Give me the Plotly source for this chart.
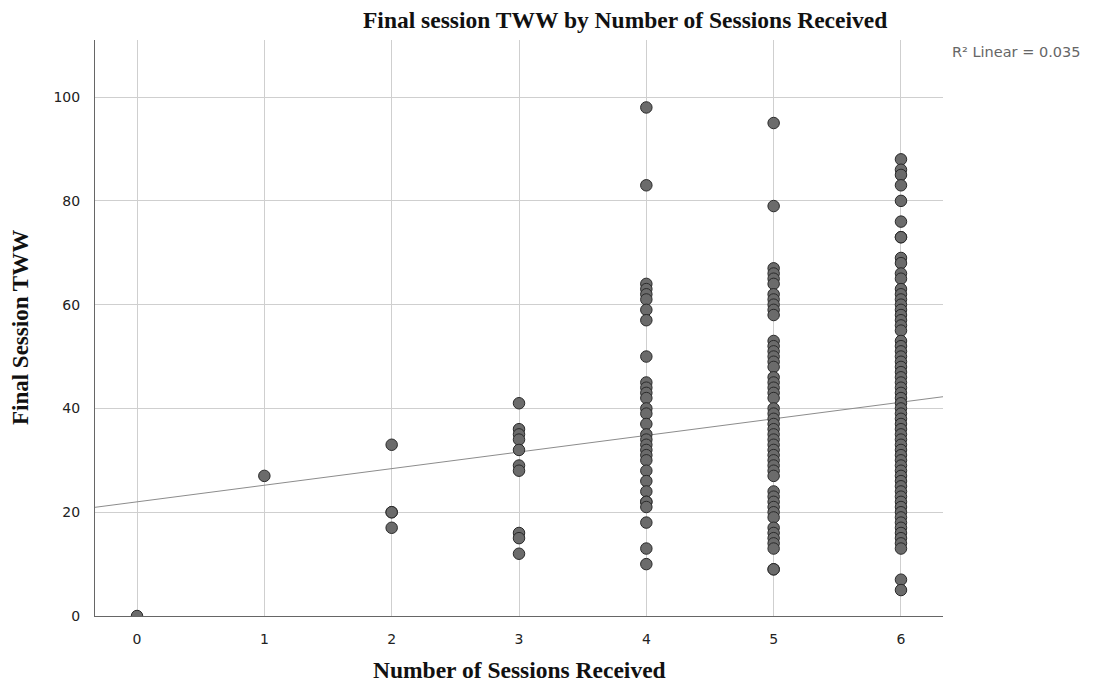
import plotly.graph_objects as go

# ---- data ----
tww_0 = [0]
tww_1 = [27]
tww_2 = [33, 20, 20, 17]
tww_3 = [41, 36, 35, 34, 32, 29, 28, 16, 15, 12]
tww_4 = [98, 83, 64, 63, 62, 61, 59, 57, 50, 45, 44, 43, 42, 40, 39, 37, 35, 34,
         33, 32, 31, 30, 28, 26, 24, 22, 22, 21, 18, 13, 10]
tww_5 = [95, 79, 67, 66, 65, 64, 62, 61, 60, 59, 58, 53, 52, 51, 50, 49, 48, 46,
         45, 44, 43, 42, 40, 39, 38, 37, 36, 35, 34, 33, 32, 31, 30, 29, 28, 27,
         24, 23, 22, 21, 20, 19, 17, 16, 15, 14, 13, 9, 9]
tww_6 = [88, 86, 85, 83, 80, 76, 73, 73, 69, 68, 66, 65, 63, 62, 61, 60, 59, 58,
         57, 56, 55, 53, 52, 51, 50, 49, 48, 47, 46, 45, 44, 43, 42, 41, 40, 39,
         38, 37, 36, 35, 34, 33, 32, 31, 30, 29, 28, 27, 26, 25, 24, 23, 22, 21,
         20, 19, 18, 17, 16, 15, 14, 13, 7, 5]

groups = {0: tww_0, 1: tww_1, 2: tww_2, 3: tww_3, 4: tww_4, 5: tww_5, 6: tww_6}

fit_intercept = 22.0
fit_slope = 3.2
r2_label = "R² Linear = 0.035"

x_ticks = [0, 1, 2, 3, 4, 5, 6]
y_ticks = [0, 20, 40, 60, 80, 100]
x_range = [-0.33, 6.33]
y_range = [0, 111]

title_text = "Final session TWW by Number of Sessions Received"
x_title = "Number of Sessions Received"
y_title = "Final Session TWW"

# ---- build ----
xs, ys = [], []
for k, vals in groups.items():
    xs += [k] * len(vals)
    ys += vals

fig = go.Figure()
fig.add_trace(go.Scatter(
    x=x_range,
    y=[fit_intercept + fit_slope * v for v in x_range],
    mode="lines",
    line=dict(color="#8c8c8c", width=1),
    hoverinfo="skip",
    showlegend=False,
))
fig.add_trace(go.Scatter(
    x=xs, y=ys, mode="markers",
    marker=dict(size=11.5, color="#6b6b6b", line=dict(color="#2a2a2a", width=1)),
    showlegend=False,
))

serif = "Liberation Serif, Times New Roman, serif"
sans = "DejaVu Sans, Verdana, sans-serif"

# page body has an 8px margin; figure sized so plot area lands at x 95-943, y 40-616
L, R, T, B = 87, 151, 32, 67
PW, PH = 848, 576

fig.update_layout(
    width=L + PW + R, height=T + PH + B,
    margin=dict(l=L, r=R, t=T, b=B),
    paper_bgcolor="white", plot_bgcolor="white",
    showlegend=False,
    xaxis=dict(
        range=x_range, tickvals=x_ticks, showgrid=True, gridcolor="#cfcfcf",
        gridwidth=1, zeroline=False, showline=True, linecolor="#666666",
        linewidth=1, ticks="", tickfont=dict(family=sans, size=14, color="#222222"),
        ticklabelstandoff=10,
    ),
    yaxis=dict(
        range=y_range, tickvals=y_ticks, showgrid=True, gridcolor="#cfcfcf",
        gridwidth=1, zeroline=False, showline=True, linecolor="#666666",
        linewidth=1, ticks="", tickfont=dict(family=sans, size=14, color="#222222"),
        ticklabelstandoff=11,
    ),
    annotations=[
        dict(text="<b>" + title_text + "</b>", xref="paper", yref="paper",
             x=(625 - 95) / PW, y=1, yshift=20, showarrow=False,
             xanchor="center", yanchor="middle",
             font=dict(family=serif, size=23.5, color="#111111")),
        dict(text=r2_label, xref="paper", yref="paper",
             x=1, xshift=7, y=(616 - 52) / PH, showarrow=False,
             xanchor="left", yanchor="middle",
             font=dict(family=sans, size=14.5, color="#666666")),
        dict(text="<b>" + x_title + "</b>", xref="paper", yref="paper",
             x=(519 - 95) / PW, y=0, yshift=-54, showarrow=False,
             xanchor="center", yanchor="middle",
             font=dict(family=serif, size=23.5, color="#111111")),
        dict(text="<b>" + y_title + "</b>", xref="paper", yref="paper",
             x=0, xshift=-75, y=(616 - 328) / PH, showarrow=False,
             textangle=-90, xanchor="center", yanchor="middle",
             font=dict(family=serif, size=23, color="#111111")),
    ],
)

fig.write_html("out.html")
